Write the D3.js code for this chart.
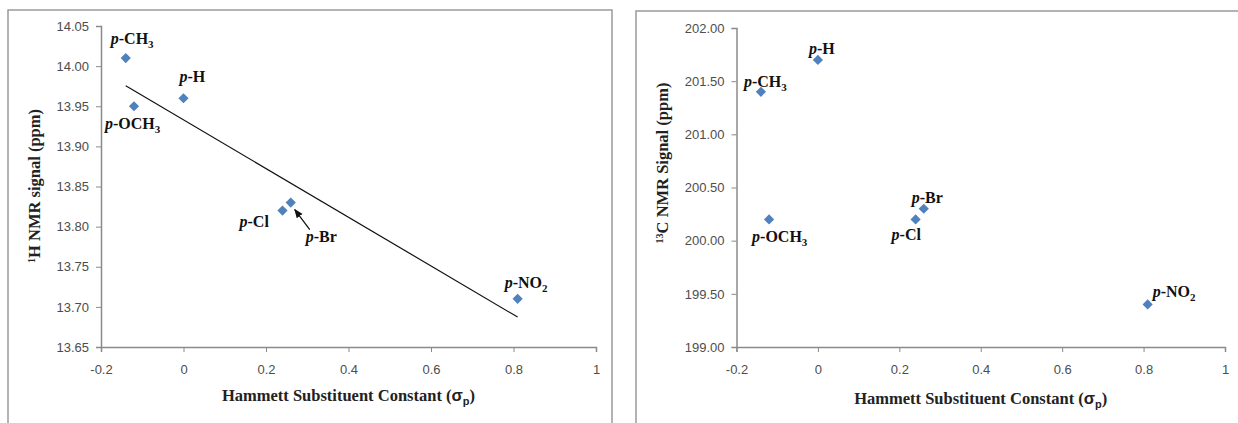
<!DOCTYPE html>
<html>
<head>
<meta charset="utf-8">
<script src="https://cdn.jsdelivr.net/npm/d3@7"></script>
<style>
  body { margin: 0; background: #fff; }
  .tick text { font-family: "Liberation Sans", Arial, sans-serif; font-size: 13px; fill: #4d4d4d; }
  .axis path, .axis line { stroke: #8a8a8a; }
  .lbl { font-family: "Liberation Serif", "Times New Roman", serif; font-size: 16px; font-weight: bold; fill: #111; }
  .title { font-family: "Liberation Serif", "Times New Roman", serif; font-size: 16.5px; font-weight: bold; fill: #222; }
</style>
</head>
<body>
<svg id="chart" width="1238" height="423"></svg>
<script>
// substituents and their Hammett constants
var labelBody = ["CH", "OCH", "H", "Cl", "Br", "NO"];
var labelSub  = ["3", "3", "", "", "", "2"];
var sigmaP = [-0.14, -0.12, 0, 0.24, 0.26, 0.81];

// chemical shifts (ppm)
var hShift = [14.01, 13.95, 13.96, 13.82, 13.83, 13.71];
var cShift = [201.40, 200.20, 201.70, 200.20, 200.30, 199.40];

// tick values
var xTicks = [-0.2, 0, 0.2, 0.4, 0.6, 0.8, 1];
var hTicks = [13.65, 13.70, 13.75, 13.80, 13.85, 13.90, 13.95, 14.00, 14.05];
var cTicks = [199.00, 199.50, 200.00, 200.50, 201.00, 201.50, 202.00];

// label placement (offset of text start / baseline from the marker)
var hLabelPos = [[-15, -14], [-29, 23], [-4, -16], [-43, 16], [15, 39], [-13, -11]];
var cLabelPos = [[-17, -5], [-17, 23], [-9, -6], [-24, 21], [-12, -6], [5, -7]];

var svg = d3.select("#chart");

var defs = svg.append("defs");
defs.append("marker")
    .attr("id", "arrow")
    .attr("viewBox", "0 0 10 10")
    .attr("refX", 9)
    .attr("refY", 5)
    .attr("markerWidth", 7)
    .attr("markerHeight", 7)
    .attr("orient", "auto")
  .append("path")
    .attr("d", "M0,1 L10,5 L0,9 Z")
    .attr("fill", "#111");

function drawPanel(opt) {
	var g = svg.append("g");

	g.append("rect")
		.attr("x", opt.frame[0])
		.attr("y", opt.frame[1])
		.attr("width", opt.frame[2])
		.attr("height", opt.frame[3])
		.attr("fill", "none")
		.style("stroke", "#9a9a9a")
		.style("stroke-width", 1.5);

	var x = d3.scaleLinear().domain([-0.2, 1]).range([opt.left, opt.right]);
	var y = d3.scaleLinear().domain(opt.yDomain).range([opt.bottom, opt.top]);

	g.append("g").attr("class", "axis")
		.attr("transform", "translate(" + opt.left + ",0)")
		.call(d3.axisLeft(y).tickValues(opt.yTicks).tickSize(5).tickPadding(7).tickFormat(d3.format(".2f")))
		.call(function(a) { a.select(".domain").style("stroke-width", 1.5); });

	g.append("g").attr("class", "axis")
		.attr("transform", "translate(0," + opt.bottom + ")")
		.call(d3.axisBottom(x).tickValues(xTicks).tickSize(5).tickPadding(13).tickFormat(function(d) { return String(+d.toFixed(1)); }))
		.call(function(a) { a.select(".domain").style("stroke-width", 1.5); });

	if (opt.trend) {
		var mx = d3.mean(sigmaP),
			my = d3.mean(opt.values),
			sxy = d3.sum(sigmaP, function(v, i) { return (v - mx) * (opt.values[i] - my); }),
			sxx = d3.sum(sigmaP, function(v) { return (v - mx) * (v - mx); }),
			slope = sxy / sxx,
			icpt = my - slope * mx,
			x0 = d3.min(sigmaP), x1 = d3.max(sigmaP);
		g.append("line")
			.attr("x1", x(x0)).attr("y1", y(icpt + slope * x0))
			.attr("x2", x(x1)).attr("y2", y(icpt + slope * x1))
			.style("stroke", "#111")
			.style("stroke-width", 1.2);
	}

	g.selectAll(".pt")
		.data(sigmaP)
		.enter().append("path")
		.attr("class", "pt")
		.attr("d", d3.symbol(d3.symbolSquare, 52))
		.attr("transform", function(d, i) { return "translate(" + x(d) + "," + y(opt.values[i]) + ") rotate(45)"; })
		.attr("fill", "#4f81bd");

	sigmaP.forEach(function(d, i) {
		var px = x(d), py = y(opt.values[i]), off = opt.labelPos[i];
		var t = g.append("text")
			.attr("class", "lbl")
			.attr("x", px + off[0])
			.attr("y", py + off[1]);
		t.append("tspan").style("font-style", "italic").text("p");
		t.append("tspan").text("-" + labelBody[i]);
		if (labelSub[i]) {
			t.append("tspan").attr("dy", 4).style("font-size", "11px").text(labelSub[i]);
		}
		if (opt.arrowFor === i) {
			g.append("line")
				.attr("x1", px + 19).attr("y1", py + 27)
				.attr("x2", px + 4).attr("y2", py + 7)
				.style("stroke", "#111")
				.style("stroke-width", 1.3)
				.attr("marker-end", "url(#arrow)");
		}
	});

	// x axis title
	var xt = g.append("text")
		.attr("class", "title")
		.attr("x", (opt.left + opt.right) / 2)
		.attr("y", opt.xTitleY)
		.attr("text-anchor", "middle");
	xt.append("tspan").text("Hammett Substituent Constant (");
	xt.append("tspan").style("font-family", "'Liberation Sans', Arial, sans-serif").text("\u03c3");
	xt.append("tspan").attr("dy", 4).style("font-family", "'Liberation Sans', Arial, sans-serif").style("font-size", "11px").text("p");
	xt.append("tspan").attr("dy", -4).text(")");

	// y axis title
	var yt = g.append("text")
		.attr("class", "title")
		.attr("text-anchor", "middle")
		.attr("transform", "translate(" + opt.yTitleX + "," + opt.yTitleY + ") rotate(-90)");
	yt.append("tspan").attr("dy", -5).style("font-size", "10px").text(opt.yTitle[0]);
	yt.append("tspan").attr("dy", 5).text(opt.yTitle[1]);
}

drawPanel({
	frame: [8, 10, 604, 430],
	left: 101, right: 596, top: 26, bottom: 347,
	yDomain: [13.65, 14.05], yTicks: hTicks,
	values: hShift, labelPos: hLabelPos,
	trend: true, arrowFor: 4,
	xTitleY: 401, yTitleX: 40, yTitleY: 186,
	yTitle: ["1", "H NMR signal (ppm)"]
});

drawPanel({
	frame: [636, 11, 620, 430],
	left: 736.5, right: 1225, top: 28, bottom: 347,
	yDomain: [199, 202], yTicks: cTicks,
	values: cShift, labelPos: cLabelPos,
	trend: false, arrowFor: -1,
	xTitleY: 404, yTitleX: 668, yTitleY: 163,
	yTitle: ["13", "C NMR Signal (ppm)"]
});
</script>
</body>
</html>
